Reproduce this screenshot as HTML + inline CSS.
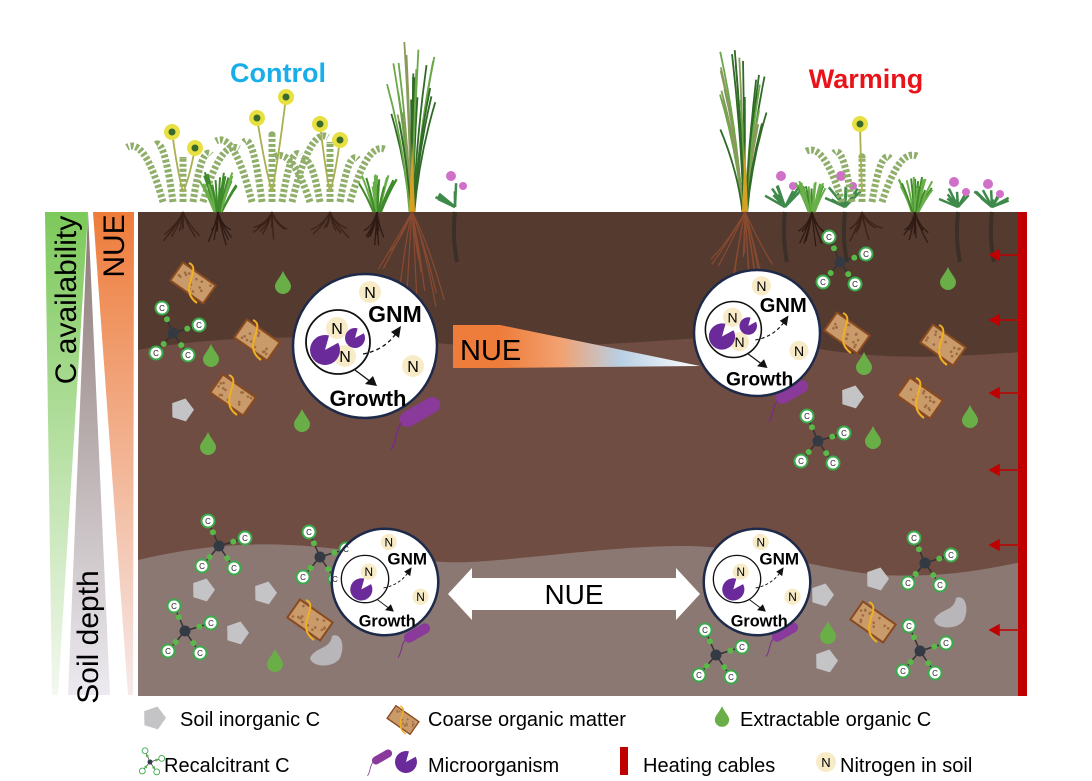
<!DOCTYPE html>
<html><head><meta charset="utf-8"><style>
html,body{margin:0;padding:0;background:#fff;}
svg{display:block;font-family:"Liberation Sans",Arial,sans-serif;}
</style></head><body>
<svg id="s" width="1092" height="781" viewBox="0 0 1092 781" xmlns="http://www.w3.org/2000/svg">
<defs>
<linearGradient id="gG" x1="0" y1="0" x2="0" y2="1"><stop offset="0" stop-color="#7cc95a"/><stop offset="1" stop-color="#f4f8f0"/></linearGradient>
<linearGradient id="gD" x1="0" y1="0" x2="0" y2="1"><stop offset="0" stop-color="#8a7773"/><stop offset="1" stop-color="#eceaf0"/></linearGradient>
<linearGradient id="gO" x1="0" y1="0" x2="0" y2="1"><stop offset="0" stop-color="#ee7c3a"/><stop offset="1" stop-color="#f6eaea"/></linearGradient>
<linearGradient id="gW" x1="0" y1="0" x2="1" y2="0"><stop offset="0" stop-color="#ee7c3a"/><stop offset="0.3" stop-color="#f2a170"/><stop offset="0.6" stop-color="#b8cfe4"/><stop offset="1" stop-color="#ffffff"/></linearGradient>
</defs>

<!-- side bars -->
<polygon points="45,212 88,212 58,695 52,695" fill="url(#gG)"/>
<polygon points="88,212 68,695 110,695" fill="url(#gD)"/>
<polygon points="93,212 134,212 133,695 128,695" fill="url(#gO)"/>
<text transform="translate(76,300) rotate(-90)" font-size="30" text-anchor="middle" fill="#000">C availability</text>
<text transform="translate(124,246) rotate(-90)" font-size="30" text-anchor="middle" fill="#000">NUE</text>
<text transform="translate(98,637) rotate(-90)" font-size="30" text-anchor="middle" fill="#000">Soil depth</text>

<!-- soil -->
<rect x="138" y="212" width="884" height="484" fill="#6f4d42"/>
<path d="M138,212 H1022 V352 C960,356 900,360 840,352 C790,345 740,335 700,338 C600,345 520,350 460,345 C400,340 320,336 260,338 C200,340 160,346 138,350 Z" fill="#553a30"/>
<path d="M138,560 C180,550 230,542 290,545 C360,548 420,565 470,562 C540,558 620,545 690,546 C760,548 820,570 880,575 C950,578 990,568 1022,562 V696 H138 Z" fill="#8c7873"/>
<g id="plants"></g>
<g id="deco"></g>

<!-- titles -->
<text x="278" y="82" font-size="27" font-weight="bold" fill="#19aee8" text-anchor="middle">Control</text>
<text x="866" y="88" font-size="27" font-weight="bold" fill="#e8141a" text-anchor="middle">Warming</text>

<!-- NUE wedge -->
<rect x="453" y="325" width="48" height="43" fill="#ee7c3a"/>
<polygon points="500,325 700,366 500,368" fill="url(#gW)"/>
<text x="460" y="360" font-size="29" fill="#000">NUE</text>

<!-- double arrow -->
<polygon points="448,594 472,568 472,578 676,578 676,568 700,594 676,620 676,610 472,610 472,620" fill="#fff"/>
<text x="574" y="604" font-size="28" text-anchor="middle" fill="#000">NUE</text>

<!-- Circles -->
<g id="circles"></g>
<g transform="translate(365,346)">
 <g font-weight="bold" text-anchor="middle" fill="#000">
  <text x="30" y="-24" font-size="23">GNM</text>
  <text x="3" y="60" font-size="22">Growth</text>
 </g>
 <g font-size="16" text-anchor="middle" fill="#000"><text x="5" y="-48">N</text><text x="48" y="26">N</text><text x="-28" y="-12">N</text><text x="-20" y="16">N</text></g>
</g>
<g transform="translate(757,333) scale(0.875)">
 <g font-weight="bold" text-anchor="middle" fill="#000">
  <text x="30" y="-24" font-size="23">GNM</text>
  <text x="3" y="60" font-size="22">Growth</text>
 </g>
 <g font-size="16" text-anchor="middle" fill="#000"><text x="5" y="-48">N</text><text x="48" y="26">N</text><text x="-28" y="-12">N</text><text x="-20" y="16">N</text></g>
</g>
<g transform="translate(385,582) scale(0.74)">
 <g font-weight="bold" text-anchor="middle" fill="#000">
  <text x="30" y="-24" font-size="23">GNM</text>
  <text x="3" y="60" font-size="22">Growth</text>
 </g>
 <g font-size="16" text-anchor="middle" fill="#000"><text x="5" y="-48">N</text><text x="48" y="26">N</text><text x="-22" y="-8">N</text></g>
</g>
<g transform="translate(757,582) scale(0.74)">
 <g font-weight="bold" text-anchor="middle" fill="#000">
  <text x="30" y="-24" font-size="23">GNM</text>
  <text x="3" y="60" font-size="22">Growth</text>
 </g>
 <g font-size="16" text-anchor="middle" fill="#000"><text x="5" y="-48">N</text><text x="48" y="26">N</text><text x="-22" y="-8">N</text></g>
</g>

<!-- recalcitrant C -->
<g id="rc" font-size="8" text-anchor="middle" fill="#222">
 <g transform="translate(173,333)"><text x="-11" y="-22">C</text><text x="26" y="-5">C</text><text x="-17" y="23">C</text><text x="15" y="25">C</text></g>
 <g transform="translate(219,546)"><text x="-11" y="-22">C</text><text x="26" y="-5">C</text><text x="-17" y="23">C</text><text x="15" y="25">C</text></g>
 <g transform="translate(185,631)"><text x="-11" y="-22">C</text><text x="26" y="-5">C</text><text x="-17" y="23">C</text><text x="15" y="25">C</text></g>
 <g transform="translate(320,557)"><text x="-11" y="-22">C</text><text x="26" y="-5">C</text><text x="-17" y="23">C</text><text x="15" y="25">C</text></g>
 <g transform="translate(840,262)"><text x="-11" y="-22">C</text><text x="26" y="-5">C</text><text x="-17" y="23">C</text><text x="15" y="25">C</text></g>
 <g transform="translate(818,441)"><text x="-11" y="-22">C</text><text x="26" y="-5">C</text><text x="-17" y="23">C</text><text x="15" y="25">C</text></g>
 <g transform="translate(925,563)"><text x="-11" y="-22">C</text><text x="26" y="-5">C</text><text x="-17" y="23">C</text><text x="15" y="25">C</text></g>
 <g transform="translate(920,651)"><text x="-11" y="-22">C</text><text x="26" y="-5">C</text><text x="-17" y="23">C</text><text x="15" y="25">C</text></g>
 <g transform="translate(716,655)"><text x="-11" y="-22">C</text><text x="26" y="-5">C</text><text x="-17" y="23">C</text><text x="15" y="25">C</text></g>
</g>

<!-- heating cable -->
<rect x="1018" y="212" width="9" height="484" fill="#c00000"/>
<g id="heat" stroke="#c00000" stroke-width="1.5" fill="#c00000"></g>

<!-- legend -->
<g font-size="20" fill="#000">
 <text x="180" y="726">Soil inorganic C</text>
 <text x="428" y="726">Coarse organic matter</text>
 <text x="740" y="726">Extractable organic C</text>
 <text x="164" y="772">Recalcitrant C</text>
 <text x="428" y="772">Microorganism</text>
 <text x="643" y="772">Heating cables</text>
 <text x="840" y="772">Nitrogen in soil</text>
</g>
<rect x="620" y="747" width="8" height="28" fill="#c00000"/>
<circle cx="826" cy="762" r="10" fill="#f8ecc8"/>
<text x="826" y="767" font-size="13" text-anchor="middle" fill="#000">N</text>

<script>
(function(){
var NS="http://www.w3.org/2000/svg";
function el(p,t,a){var e=document.createElementNS(NS,t);for(var k in a)e.setAttribute(k,a[k]);p.appendChild(e);return e;}
var seed=7;function r(){seed=(seed*9301+49297)%233280;return seed/233280;}
var P=document.getElementById('plants'),D=document.getElementById('deco'),C=document.getElementById('circles'),H=document.getElementById('heat');
var ground=212;
function roots(x,w,d,col){for(var i=0;i<9;i++){var ex=x+(r()-0.5)*w*2,ey=ground+d*(0.5+r()*0.5);el(P,'path',{d:'M'+x+','+ground+' Q'+(x+(ex-x)*0.3)+','+(ground+d*0.4)+' '+ex+','+ey,stroke:col||'#3a2218','stroke-width':1.3,fill:'none'});}}
function tuft(x,h,w){for(var i=0;i<22;i++){var a=(r()-0.5)*w,hh=h*(0.6+r()*0.4);el(P,'path',{d:'M'+(x+a*0.2)+','+ground+' Q'+(x+a*0.6)+','+(ground-hh*0.6)+' '+(x+a)+','+(ground-hh),stroke:(r()<0.5?'#3f8a2a':'#6ab04a'),'stroke-width':2,fill:'none'});}roots(x,14,35,'#2e1a12');}
function fern(x,top,flowers){
 for(var i=0;i<5;i++){var sx=x+(i-2)*10,sy=ground-10;var ex=x+(i-2)*28,ey=ground-50-r()*30;el(P,'path',{d:'M'+sx+','+sy+' Q'+((sx+ex)/2)+','+(ey-10)+' '+ex+','+ey,stroke:'#8fae6a','stroke-width':7,fill:'none','stroke-dasharray':'3 2'});}
 flowers.forEach(function(f){el(P,'path',{d:'M'+x+','+(ground-20)+' Q'+((x+f[0])/2)+','+((ground+f[1])/2)+' '+f[0]+','+f[1],stroke:'#a8b050','stroke-width':1.8,fill:'none'});el(P,'circle',{cx:f[0],cy:f[1],r:8,fill:'#e8e040'});el(P,'circle',{cx:f[0],cy:f[1],r:3.5,fill:'#3a6a2a'});});
 roots(x,22,30);}
function tall(x,top){for(var i=0;i<26;i++){var a=(r()-0.5)*50,hh=(ground-top)*(0.5+r()*0.5);el(P,'path',{d:'M'+(x+a*0.1)+','+ground+' Q'+(x+a*0.3)+','+(ground-hh*0.5)+' '+(x+a)+','+(ground-hh),stroke:(r()<0.4?'#2f6a26':(r()<0.5?'#6aa848':'#8a9a5a')),'stroke-width':1.8,fill:'none'});}
 el(P,'path',{d:'M'+(x-3)+','+ground+' L'+x+','+(ground-70)+' L'+(x+3)+','+ground+'Z',fill:'#d8a020'});
 for(var j=0;j<14;j++){var ex=x+(r()-0.5)*70,ey=ground+40+r()*55;el(P,'path',{d:'M'+x+','+ground+' Q'+(x+(ex-x)*0.5)+','+(ground+30)+' '+ex+','+ey,stroke:'#8a4a30','stroke-width':1.2,fill:'none'});}}
function thistle(x,top){for(var i=0;i<10;i++){var a=(r()-0.5)*40;el(P,'path',{d:'M'+x+','+(ground-5)+' L'+(x+a)+','+(ground-10-r()*(ground-top-20)),stroke:'#3f8a4a','stroke-width':2.5,fill:'none'});}
 el(P,'circle',{cx:x-4,cy:top+4,r:5,fill:'#d070c8'});el(P,'circle',{cx:x+8,cy:top+14,r:4,fill:'#d070c8'});
 el(P,'path',{d:'M'+x+','+ground+' Q'+(x-3)+','+(ground+25)+' '+(x+2)+','+(ground+50),stroke:'#3a3028','stroke-width':4,fill:'none'});}
// control plants
fern(183,130,[[172,132],[195,148]]);
tuft(218,40,40);
fern(272,95,[[257,118],[286,97]]);
fern(330,120,[[320,124],[340,140]]);
tuft(377,38,40);
tall(412,40);
thistle(455,172);
// warming plants
tall(745,50);
thistle(785,172);tuft(812,32,36);thistle(845,172);
fern(862,120,[[860,124]]);
tuft(915,36,40);thistle(958,178);thistle(992,180);
// coarse organic matter
function com(x,y,s){var g=el(D,'g',{transform:'translate('+x+','+y+') rotate(35) scale('+(s||1)+')'});el(g,'rect',{x:-20,y:-11,width:40,height:22,fill:'#c99a6a',stroke:'#8a4a20','stroke-width':2});
 for(var i=0;i<14;i++)el(g,'circle',{cx:-17+r()*34,cy:-8+r()*16,r:1.3,fill:'#a06a40'});
 el(g,'path',{d:'M-4,-20 C10,-14 -16,6 4,20',stroke:'#f0b020','stroke-width':2,fill:'none',transform:'rotate(-35)'});}
[[193,283],[257,340],[233,395],[310,620],[847,333],[943,345],[920,398],[873,622],[403,720]].forEach(function(p,i){com(p[0],p[1],i==8?0.7:1);});
// drops
function drop(x,y,s){s=s||1;el(D,'path',{d:'M'+x+','+(y-11*s)+' C'+(x+3*s)+','+(y-4*s)+' '+(x+8*s)+','+y+' '+(x+8*s)+','+(y+4*s)+' A'+8*s+','+8*s+' 0 0 1 '+(x-8*s)+','+(y+4*s)+' C'+(x-8*s)+','+y+' '+(x-3*s)+','+(y-4*s)+' '+x+','+(y-11*s)+'Z',fill:'#6aae48'});}
[[283,282],[211,355],[302,420],[208,443],[275,660],[948,278],[864,363],[873,437],[970,416],[828,632]].forEach(function(p){drop(p[0],p[1]);});
drop(722,716,0.9);
// inorganic C
function rock(x,y,s,blob){s=s||1;if(blob){el(D,'path',{d:'M'+(x-16*s)+','+(y+8*s)+' C'+(x-10*s)+','+(y-4*s)+' '+(x+4*s)+','+(y)+' '+(x+6*s)+','+(y-14*s)+' C'+(x+14*s)+','+(y-18*s)+' '+(x+20*s)+','+(y-6*s)+' '+(x+14*s)+','+(y+8*s)+' C'+(x+8*s)+','+(y+18*s)+' '+(x-14*s)+','+(y+18*s)+' '+(x-16*s)+','+(y+8*s)+'Z',fill:'#b8b6b8'});return;}
 var pts=[];for(var i=0;i<5;i++){var a=i*Math.PI*2/5-Math.PI/2+0.3;pts.push((x+Math.cos(a)*12*s).toFixed(1)+','+(y+Math.sin(a)*12*s).toFixed(1));}el(D,'polygon',{points:pts.join(' '),fill:'#c4c3c6'});}
[[182,410],[265,593],[237,633],[203,590],[852,397],[822,595],[877,579],[826,661],[154,718]].forEach(function(p){rock(p[0],p[1]);});
rock(326,650,1,true);rock(950,612,1,true);
// bacteria
function bug(x,y,s,a){var g=el(D,'g',{transform:'translate('+x+','+y+') rotate('+a+') scale('+s+')'});
 el(g,'path',{d:'M-20,0 C-30,2 -34,14 -44,18',stroke:'#7a2a8a','stroke-width':1.5,fill:'none'});
 el(g,'rect',{x:-22,y:-8,width:44,height:16,rx:8,fill:'#8a3a9a'});}
bug(420,412,1,-30);bug(792,392,0.8,-30);bug(417,633,0.65,-30);bug(785,632,0.65,-30);bug(382,757,0.5,-30);
// recalcitrant C shapes
function rcs(x,y,s){var g=el(D,'g',{transform:'translate('+x+','+y+') scale('+(s||1)+')'});
 [[-11,-25],[26,-8],[-17,20],[15,22]].forEach(function(o){el(g,'line',{x1:0,y1:0,x2:o[0],y2:o[1],stroke:'#333','stroke-width':1.5});el(g,'circle',{cx:o[0]*0.55,cy:o[1]*0.55,r:3,fill:'#5ab848'});el(g,'circle',{cx:o[0],cy:o[1],r:6.5,fill:'#fff',stroke:'#3aaa4a','stroke-width':2});});
 el(g,'circle',{cx:0,cy:0,r:5.5,fill:'#333a44'});}
[[173,333],[219,546],[185,631],[320,557],[840,262],[818,441],[925,563],[920,651],[716,655]].forEach(function(p){rcs(p[0],p[1]);});
rcs(150,762,0.45);
var rc=document.getElementById('rc');rc.parentNode.appendChild(rc);
// circles
function pac(g,x,y,rr){var a1=-0.5,a2=-1.3;el(g,'path',{d:'M'+x+','+y+' L'+(x+rr*Math.cos(a1))+','+(y+rr*Math.sin(a1))+' A'+rr+','+rr+' 0 1 1 '+(x+rr*Math.cos(a2))+','+(y+rr*Math.sin(a2))+'Z',fill:'#6a2a9a'});}
function circ(cx,cy,s,two){var g=el(C,'g',{transform:'translate('+cx+','+cy+') scale('+s+')'});
 el(g,'circle',{cx:0,cy:0,r:72,fill:'#fff',stroke:'#1e2a4a','stroke-width':2.5/s});
 el(g,'circle',{cx:-27,cy:-4,r:32,fill:'none',stroke:'#111','stroke-width':1.8});
 var ns=two?[[5,-54],[48,20],[-28,-18],[-20,10]]:[[5,-54],[48,20],[-22,-14]];
 ns.forEach(function(n){el(g,'circle',{cx:n[0],cy:n[1],r:11,fill:'#f8ecc8'});});
 if(two){pac(g,-40,4,15);pac(g,-10,-8,10);}else pac(g,-32,10,15);
 el(g,'path',{d:'M-2,8 Q20,4 32,-14',stroke:'#111','stroke-width':1.3,fill:'none','stroke-dasharray':'4 3'});
 el(g,'polygon',{points:'36,-20 26,-14 34,-8',fill:'#111'});
 el(g,'line',{x1:-10,y1:24,x2:6,y2:36,stroke:'#111','stroke-width':1.3});
 el(g,'polygon',{points:'12,40 0,38 8,30',fill:'#111'});}
circ(365,346,1,true);circ(757,333,0.875,true);circ(385,582,0.74,false);circ(757,582,0.74,false);
(function(){var g=el(D,'g',{});pac(g,406,762,11);})();
// heat arrows
[255,320,393,470,545,630].forEach(function(y){el(H,'line',{x1:1018,y1:y,x2:996,y2:y});el(H,'polygon',{points:'990,'+y+' 999,'+(y-5)+' 999,'+(y+5)});});
})();
</script>
</svg>
</body></html>
